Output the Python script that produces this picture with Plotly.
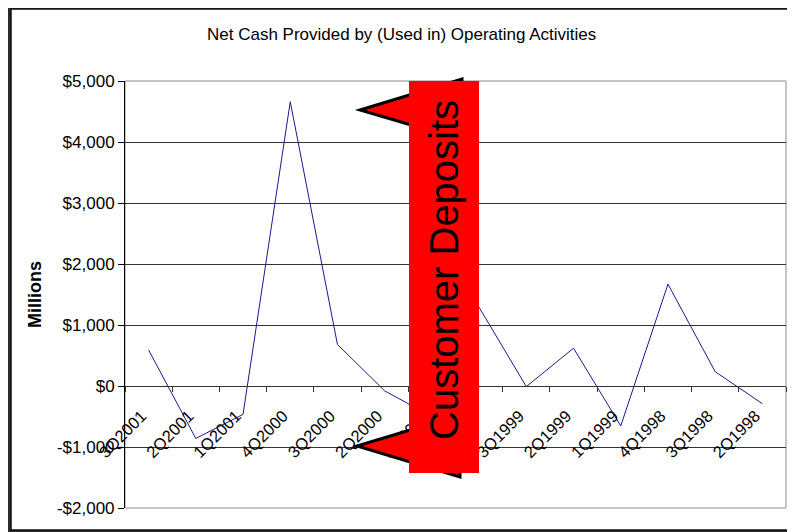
import plotly.graph_objects as go

quarters = ["3Q2001", "2Q2001", "1Q2001", "4Q2000", "3Q2000", "2Q2000", "1Q2000",
            "4Q1999", "3Q1999", "2Q1999", "1Q1999", "4Q1998", "3Q1998", "2Q1998"]
net_cash = [590, -860, -465, 4660, 680, -80, -500,
            1290, -10, 620, -655, 1670, 235, -290]

y_ticks = [-2000, -1000, 0, 1000, 2000, 3000, 4000, 5000]
y_labels = ["-$2,000", "-$1,000", "$0", "$1,000", "$2,000", "$3,000", "$4,000", "$5,000"]

# page body has an 8px margin, so work in screen pixels minus that offset
OFF = 8
W, H = 795 - OFF, 532 - OFF
L, R, T, B = 125 - OFF, 786 - OFF, 81 - OFF, 508 - OFF


def px(x):
    return (x - OFF - L) / (R - L)


def py(y):
    return (B - (y - OFF)) / (B - T)


fig = go.Figure()
fig.add_trace(go.Scatter(x=quarters, y=net_cash, mode="lines",
                         line=dict(color="#1a1a8c", width=1), hoverinfo="x+y"))

shapes = [
    # white chart area on the dark screen background
    dict(type="rect", xref="paper", yref="paper", x0=px(11), x1=px(793), y0=py(530), y1=py(9),
         fillcolor="white", line=dict(color="#111", width=1.5), layer="below"),
    # plot border
    dict(type="rect", xref="paper", yref="paper", x0=0, x1=1, y0=0, y1=1,
         line=dict(color="#8c8c8c", width=1), layer="below"),
    # callout wedges
    dict(type="path", xref="paper", yref="paper",
         path=f"M {px(360)},{py(110)} L {px(462)},{py(79)} L {px(462)},{py(140)} Z",
         fillcolor="red", line=dict(color="black", width=3), layer="above"),
    dict(type="path", xref="paper", yref="paper",
         path=f"M {px(357)},{py(446)} L {px(460)},{py(415)} L {px(460)},{py(477)} Z",
         fillcolor="red", line=dict(color="black", width=3), layer="above"),
    # red label box
    dict(type="rect", xref="paper", yref="paper", x0=px(409), x1=px(479), y0=py(473), y1=py(81),
         fillcolor="#ff0000", line=dict(width=0), layer="above"),
]

fig.update_layout(
    width=W, height=H,
    margin=dict(l=L, r=W - R, t=T, b=H - B),
    paper_bgcolor="#2b2b2b",
    plot_bgcolor="#c0c0c0",
    showlegend=False,
    font=dict(family="Liberation Sans, Arial, sans-serif", color="black"),
    shapes=shapes,
    annotations=[
        dict(text="Net Cash Provided by (Used in) Operating Activities", xref="paper", yref="paper",
             x=px(401), y=py(34), xanchor="center", yanchor="middle",
             showarrow=False, font=dict(size=17)),
        dict(text="<b>Millions</b>", xref="paper", yref="paper", x=px(35), y=py(295),
             xanchor="center", yanchor="middle",
             showarrow=False, textangle=-90, font=dict(size=18)),
        dict(text="Customer Deposits", xref="paper", yref="paper", x=px(444), y=py(270),
             xanchor="center", yanchor="middle",
             showarrow=False, textangle=-90, font=dict(size=40)),
    ],
)

fig.update_xaxes(type="category", range=[-0.5, len(quarters) - 0.5],
                 anchor="free", position=2 / 7,
                 showline=True, linecolor="#333", linewidth=1,
                 ticks="outside", tickson="boundaries", ticklen=5, tickcolor="#333",
                 tickangle=-45, tickfont=dict(size=16.5), ticklabelstandoff=13,
                 ticklabelshift=-7, showgrid=False)
fig.update_yaxes(range=[-2000, 5000], tickvals=y_ticks, ticktext=y_labels,
                 showline=True, linecolor="black", linewidth=1,
                 ticks="outside", ticklen=6, tickcolor="black",
                 showgrid=True, gridcolor="#333", gridwidth=1, zeroline=False,
                 tickfont=dict(size=17))

fig.write_html("out.html")
